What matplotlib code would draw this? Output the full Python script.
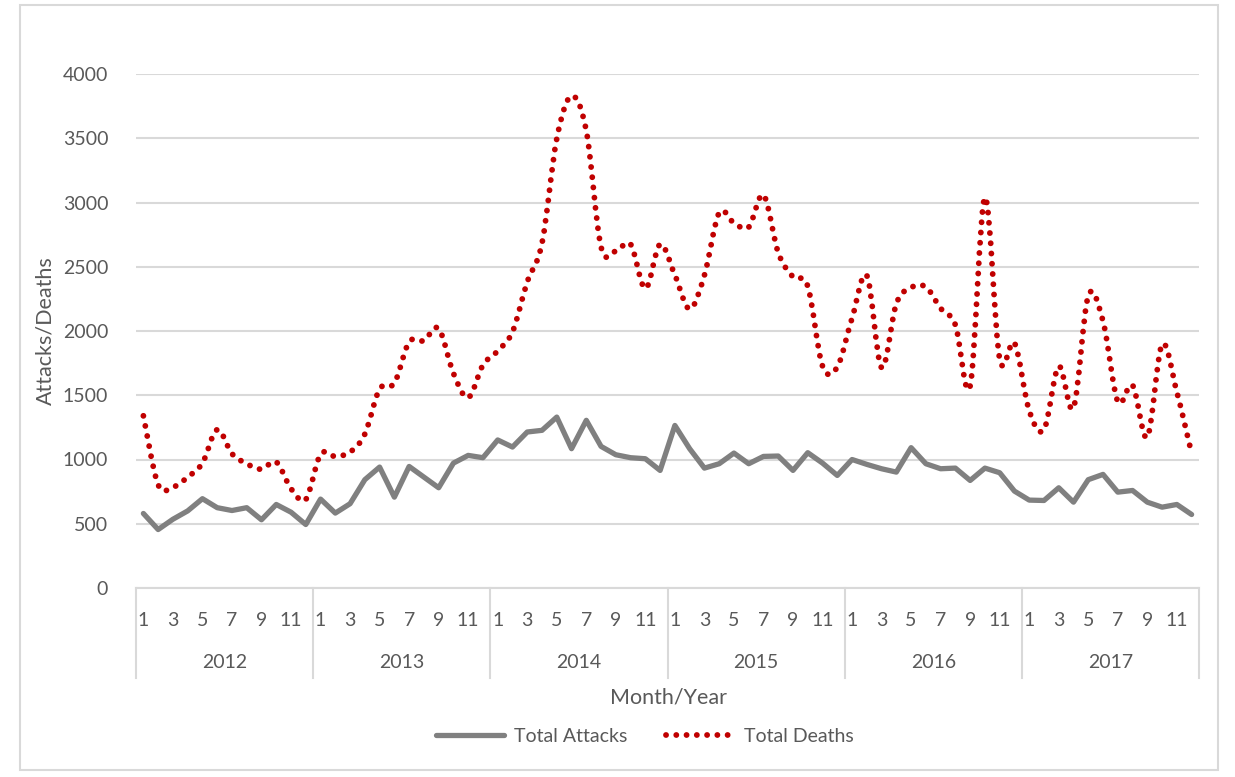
import matplotlib
matplotlib.use("Agg")
import matplotlib.pyplot as plt
import numpy as np
from matplotlib.path import Path
from matplotlib.patches import PathPatch, Rectangle
from matplotlib.lines import Line2D
import matplotlib.transforms as mtransforms

plt.rcParams['font.family'] = ['Lato', 'DejaVu Sans']

years = [2012, 2013, 2014, 2015, 2016, 2017]
month_labels = ['1', '3', '5', '7', '9', '11']

total_attacks = [
    580, 455, 535, 600, 695, 625, 603, 625, 531, 650, 590, 494,
    692, 583, 656, 843, 941, 707, 946, 863, 780, 972, 1032, 1014,
    1152, 1097, 1214, 1227, 1330, 1084, 1305, 1102, 1037, 1014, 1006, 915,
    1265, 1084, 933, 967, 1050, 967, 1024, 1027, 915, 1053, 972, 876,
    1000, 962, 928, 902, 1092, 967, 928, 933, 837, 933, 897, 754,
    684, 681, 780, 668, 843, 884, 746, 759, 668, 629, 650, 572,
]
total_deaths = [
    1340, 804, 785, 863, 972, 1232, 1045, 967, 925, 980, 773, 689,
    1040, 1024, 1058, 1198, 1548, 1595, 1914, 1925, 2019, 1671, 1481, 1735,
    1845, 1993, 2382, 2683, 3496, 3830, 3558, 2654, 2621, 2675, 2330, 2675,
    2435, 2171, 2434, 2919, 2841, 2808, 3059, 2610, 2421, 2348, 1727, 1720,
    2100, 2431, 1715, 2213, 2338, 2343, 2177, 2047, 1573, 3039, 1782, 1907,
    1380, 1232, 1725, 1403, 2273, 2076, 1452, 1577, 1174, 1896, 1525, 1047,
]


def smooth_path(xs, ys):
    # Excel-style smoothed line: Catmull-Rom as cubic Bezier segments
    pts = np.column_stack([xs, ys]).astype(float)
    n = len(pts)
    verts = [pts[0]]
    codes = [Path.MOVETO]
    for i in range(n - 1):
        p0 = pts[i - 1] if i > 0 else pts[i]
        p1 = pts[i]
        p2 = pts[i + 1]
        p3 = pts[i + 2] if i + 2 < n else pts[i + 1]
        c1 = p1 + (p2 - p0) / 6.0
        c2 = p2 - (p3 - p1) / 6.0
        verts += [c1, c2, p2]
        codes += [Path.CURVE4] * 3
    return Path(verts, codes)


W, H = 1235, 777
fig = plt.figure(figsize=(W / 100, H / 100), dpi=100)
fig.patch.set_facecolor('white')

# outer chart border
fig.add_artist(Rectangle((20 / W, 1 - 770 / H), (1218 - 20) / W, (770 - 5) / H,
                         transform=fig.transFigure, fill=False,
                         edgecolor='#D9D9D9', linewidth=1.5))

ax = fig.add_axes([136 / W, 1 - 588 / H, 1063 / W, (588 - 74) / H])

x = np.arange(len(total_attacks))
grid_c = '#D9D9D9'
text_c = '#595959'
fs = 14

ax.plot(x, total_attacks, color='#808080', linewidth=3.8,
        solid_joinstyle='round', solid_capstyle='round', zorder=3)

dots = (0, (0.01, 1.75))
deaths_patch = PathPatch(smooth_path(x, total_deaths), fill=False,
                         edgecolor='#C00000', linewidth=4.2,
                         linestyle=dots, capstyle='round', zorder=4)
ax.add_patch(deaths_patch)

ax.set_xlim(-0.5, len(x) - 0.5)
ax.set_ylim(0, 4000)
ax.set_yticks(np.arange(0, 4001, 500))
ax.yaxis.grid(True, color=grid_c, linewidth=1.5)
ax.set_axisbelow(True)

for s in ['top', 'right', 'left']:
    ax.spines[s].set_visible(False)
ax.spines['bottom'].set_color(grid_c)
ax.spines['bottom'].set_linewidth(1.5)

tick_pos, tick_lab = [], []
for yi in range(len(years)):
    for m in month_labels:
        tick_pos.append(yi * 12 + int(m) - 1)
        tick_lab.append(m)
ax.set_xticks(tick_pos)
ax.set_xticklabels(tick_lab)
ax.tick_params(axis='x', length=0, pad=17, labelsize=fs, labelcolor=text_c)
ax.tick_params(axis='y', length=0, pad=20, labelsize=fs, labelcolor=text_c)

trans = mtransforms.blended_transform_factory(ax.transData, ax.transAxes)
for yi, yr in enumerate(years):
    ax.text(yi * 12 + 5.5, -74 / 514, str(yr), transform=trans,
            ha='center', va='center', fontsize=fs, color=text_c)
for k in range(len(years) + 1):
    ax.plot([k * 12 - 0.5, k * 12 - 0.5], [0, -90 / 514], transform=trans,
            color=grid_c, linewidth=1.5, clip_on=False)

fig.text(668 / W, 1 - 697 / H, 'Month/Year', ha='center', va='center',
         fontsize=15.5, color=text_c)
fig.text(45 / W, 1 - 331 / H, 'Attacks/Deaths', ha='center', va='center',
         rotation=90, fontsize=15.5, color=text_c)

handles = [
    Line2D([], [], color='#808080', linewidth=3.8, solid_capstyle='round'),
    Line2D([], [], color='#C00000', linewidth=4.2, linestyle=dots,
           dash_capstyle='round'),
]
fig.legend(handles, ['Total Attacks', 'Total Deaths'], loc='center',
           bbox_to_anchor=(0.522, 1 - 736 / H), ncol=2, frameon=False,
           fontsize=fs, labelcolor=text_c, handlelength=3.5,
           columnspacing=2.0, handletextpad=0.5)

fig.savefig('out.png', dpi=100)
